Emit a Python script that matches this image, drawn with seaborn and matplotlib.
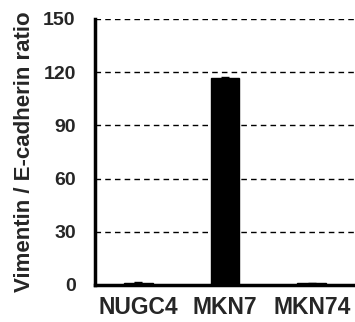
import matplotlib
matplotlib.use("Agg")
import matplotlib.pyplot as plt
import seaborn as sns
import pandas as pd

# values
cell_lines = ["NUGC4", "MKN7", "MKN74"]
ratio = [1.2, 116.5, 1.0]
ratio_err = [0.3, 0.8, 0.3]

df = pd.DataFrame({"cell": cell_lines, "ratio": ratio})

sns.set_style("white")
plt.rcParams["font.family"] = ["Liberation Sans", "DejaVu Sans"]
plt.rcParams["font.weight"] = "bold"

fig = plt.figure(figsize=(3.55, 3.22), dpi=100)
ax = fig.add_axes([0.268, 0.115, 0.732, 0.826])

sns.barplot(data=df, x="cell", y="ratio", color="black", width=0.33,
            edgecolor="black", ax=ax, zorder=3)
ax.errorbar(range(len(cell_lines)), ratio, yerr=ratio_err, fmt="none",
            ecolor="black", elinewidth=1, capsize=3, zorder=4)

ax.set_ylim(0, 150)
ax.set_xlim(-0.5, 2.5)
ax.set_yticks([0, 30, 60, 90, 120, 150])
ax.yaxis.grid(True, linestyle=(0, (4, 3)), color="black", linewidth=1)
ax.set_axisbelow(True)

for s in ["top", "right"]:
    ax.spines[s].set_visible(False)
for s in ["left", "bottom"]:
    ax.spines[s].set_linewidth(2.5)
    ax.spines[s].set_color("black")

ax.tick_params(axis="y", length=0, pad=14, labelsize=14)
ax.tick_params(axis="x", length=0, pad=8, labelsize=16.5)
ax.set_xlabel("")
ax.set_ylabel("Vimentin / E-cadherin ratio", fontsize=16, fontweight="bold", labelpad=6)

fig.savefig("out.png", dpi=100)
